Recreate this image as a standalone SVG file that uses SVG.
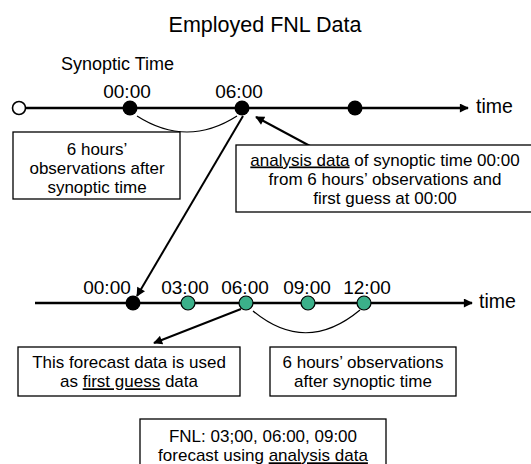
<svg xmlns="http://www.w3.org/2000/svg" width="531" height="464" viewBox="0 0 531 464">
<style>
text{font-family:"Liberation Sans",Arial,sans-serif;fill:#000}
.title{font-size:21.5px}
.lbl{font-size:19px}
.box{fill:#fff;stroke:#000;stroke-width:1.3}
.bt{font-size:17px;text-anchor:middle}
.axis{stroke:#000;stroke-width:2.6;fill:none}
.curve{stroke:#000;stroke-width:1.2;fill:none}
.arr{stroke:#000;stroke-width:2;fill:none}
.blk{fill:#000}
.grn{fill:#3bb08a;stroke:#000;stroke-width:1.2}
.u{text-decoration:underline}
</style>
<defs>
<marker id="ah" viewBox="0 0 10 10" refX="9" refY="5" markerWidth="11" markerHeight="9" markerUnits="userSpaceOnUse" orient="auto">
<path d="M0,0 L10,5 L0,10 z" fill="#000"/>
</marker>
<marker id="ah2" viewBox="0 0 10 10" refX="9" refY="5" markerWidth="11" markerHeight="9" markerUnits="userSpaceOnUse" orient="auto">
<path d="M0,0 L10,5 L0,10 z" fill="#000"/>
</marker>
</defs>
<text class="title" x="265" y="32" text-anchor="middle">Employed FNL Data</text>
<text class="lbl" x="61" y="70" style="font-size:18px">Synoptic Time</text>
<g id="connectors">
<line class="axis" x1="26" y1="108" x2="468" y2="108" marker-end="url(#ah2)"/>
<line class="axis" x1="35" y1="303" x2="472" y2="303" marker-end="url(#ah2)"/>
<path class="curve" d="M137,116 Q187,148 237,116"/>
<path class="curve" d="M253,311 Q306,355 360,310"/>
<line class="arr" x1="310" y1="146" x2="256" y2="117" marker-end="url(#ah)"/>
<line class="arr" x1="243" y1="116" x2="137" y2="296" marker-end="url(#ah)"/>
<line class="arr" x1="241" y1="309" x2="154" y2="343" marker-end="url(#ah)"/>
</g>
<g id="top-axis-nodes">
<circle cx="19" cy="108" r="6.5" fill="#fff" stroke="#000" stroke-width="1.6"/>
<circle class="blk" cx="130" cy="108" r="7.5"/>
<circle class="blk" cx="242" cy="108" r="7.5"/>
<circle class="blk" cx="355" cy="108" r="7.5"/>
<text class="lbl" x="127" y="98" text-anchor="middle">00:00</text>
<text class="lbl" x="239" y="98" text-anchor="middle">06:00</text>
<text class="lbl" x="476" y="113" style="font-size:19.5px">time</text>
</g>
<g id="bottom-axis-nodes">
<circle class="blk" cx="133" cy="303" r="7.5"/>
<circle class="grn" cx="188" cy="303" r="7"/>
<circle class="grn" cx="246" cy="303" r="7"/>
<circle class="grn" cx="308" cy="303" r="7"/>
<circle class="grn" cx="364" cy="303" r="7"/>
<text class="lbl" x="107" y="294" text-anchor="middle">00:00</text>
<text class="lbl" x="185" y="294" text-anchor="middle">03:00</text>
<text class="lbl" x="245" y="294" text-anchor="middle">06:00</text>
<text class="lbl" x="307" y="294" text-anchor="middle">09:00</text>
<text class="lbl" x="367" y="294" text-anchor="middle">12:00</text>
<text class="lbl" x="479" y="308" style="font-size:19.5px">time</text>
</g>
<g id="box-obs-top">
<rect class="box" x="13" y="132" width="167" height="67"/>
<text class="bt" x="97" y="154.5">6 hours’</text>
<text class="bt" x="97" y="173.8">observations after</text>
<text class="bt" x="97" y="193">synoptic time</text>
</g>
<g id="box-analysis">
<rect class="box" x="236" y="145" width="300" height="67"/>
<text class="bt" x="385" y="165.5"><tspan class="u">analysis data</tspan> of synoptic time 00:00</text>
<text class="bt" x="385" y="184.8">from 6 hours’ observations and</text>
<text class="bt" x="385" y="204">first guess at 00:00</text>
</g>
<g id="box-first-guess">
<rect class="box" x="18" y="347" width="222" height="49"/>
<text class="bt" x="129" y="368">This forecast data is used</text>
<text class="bt" x="129" y="387.3">as <tspan class="u">first guess</tspan> data</text>
</g>
<g id="box-obs-bottom">
<rect class="box" x="270" y="347" width="186" height="49"/>
<text class="bt" x="363" y="368">6 hours’ observations</text>
<text class="bt" x="363" y="387.3">after synoptic time</text>
</g>
<g id="box-fnl">
<rect class="box" x="140" y="419" width="246" height="50"/>
<text class="bt" x="263" y="442">FNL: 03;00, 06:00, 09:00</text>
<text class="bt" x="263" y="461.3">forecast using <tspan class="u">analysis data</tspan></text>
</g>
</svg>
